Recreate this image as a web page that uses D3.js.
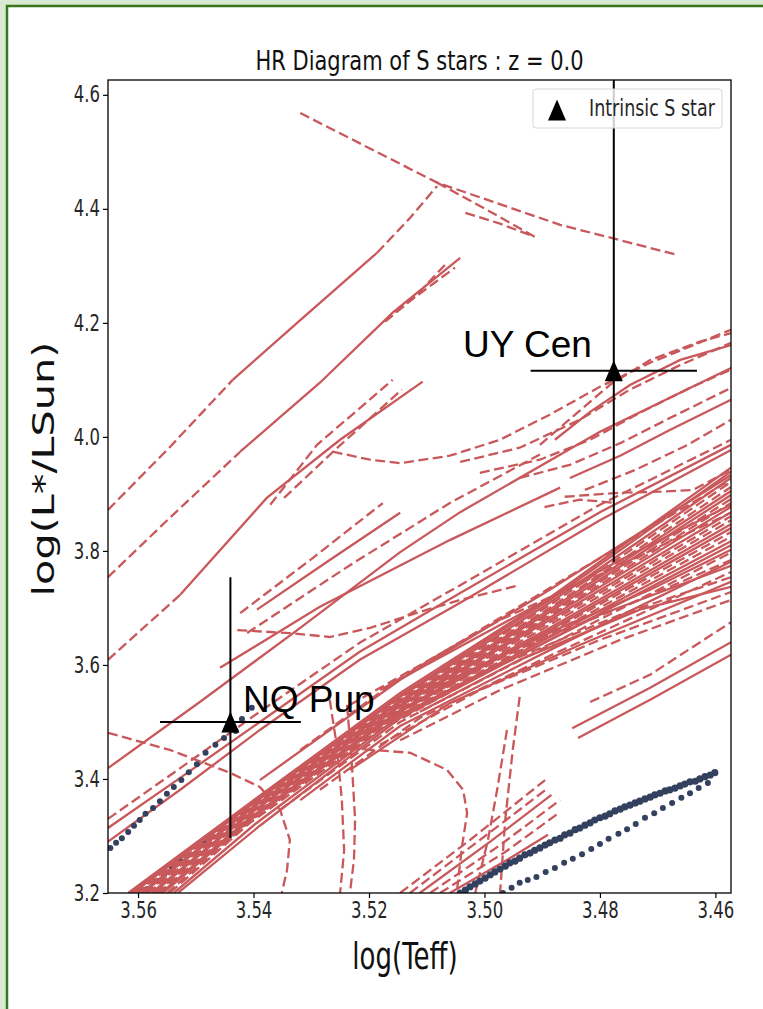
<!DOCTYPE html>
<html>
<head>
<meta charset="utf-8">
<script src="https://cdn.jsdelivr.net/npm/d3@7"></script>
<style>
  html, body { margin: 0; padding: 0; background: #d9ead3; }
  svg { display: block; }
</style>
</head>
<body>
<svg id="hr" width="763" height="1009"></svg>
<script>
// axis ticks
const xTicks = [3.56, 3.54, 3.52, 3.50, 3.48, 3.46];
const yTicks = [3.2, 3.4, 3.6, 3.8, 4.0, 4.2, 4.4, 4.6];

// evolutionary tracks, each one a list of [logTeff, logL]
const upperSolid = [
  [[3.5436, 4.100], [3.5319, 4.205], [3.5186, 4.323]],
  [[3.5423, 3.974], [3.5285, 4.095], [3.5159, 4.218], [3.5042, 4.314]],
  [[3.5527, 3.723], [3.5377, 3.893], [3.5250, 3.995], [3.5107, 4.097]]
];
const upperDashed = [
  [[3.5319, 4.568], [3.5082, 4.446], [3.4869, 4.372], [3.4665, 4.319]],
  [[3.5082, 4.446], [3.4990, 4.395], [3.4913, 4.351]],
  [[3.5033, 4.393], [3.4973, 4.374], [3.4921, 4.354]],
  [[3.5652, 3.872], [3.5545, 3.982], [3.5436, 4.100]],
  [[3.5186, 4.323], [3.5129, 4.384], [3.5082, 4.440]],
  [[3.5652, 3.754], [3.5545, 3.858], [3.5423, 3.974]],
  [[3.5172, 4.202], [3.5120, 4.246], [3.5068, 4.302]],
  [[3.5155, 4.219], [3.5103, 4.258], [3.5051, 4.297]],
  [[3.5652, 3.609], [3.5527, 3.723]],
  [[3.5371, 3.881], [3.5290, 3.986], [3.5159, 4.100]],
  [[3.5347, 3.893], [3.5259, 3.977], [3.5143, 4.083]]
];
const middleSolid = [
  [[3.5652, 3.419], [3.5493, 3.535], [3.5319, 3.665], [3.5146, 3.798], [3.5042, 3.868], [3.4800, 4.009], [3.4573, 4.121]],
  [[3.5652, 3.290], [3.5527, 3.381], [3.5389, 3.486], [3.5216, 3.609], [3.5042, 3.709], [3.4800, 3.854], [3.4573, 3.977]],
  [[3.5652, 3.314], [3.5527, 3.402], [3.5389, 3.500], [3.5216, 3.623], [3.5042, 3.726], [3.4800, 3.868], [3.4573, 3.986]],
  [[3.5394, 3.697], [3.5268, 3.784], [3.5146, 3.867]],
  [[3.5458, 3.595], [3.5285, 3.702], [3.5060, 3.819], [3.4869, 3.911]]
];
const middleDashed = [
  [[3.5652, 3.330], [3.5527, 3.419], [3.5389, 3.518], [3.5216, 3.639], [3.5042, 3.740], [3.4800, 3.881], [3.4573, 3.995]],
  [[3.5423, 3.691], [3.5302, 3.784], [3.5176, 3.884]],
  [[3.5411, 3.656], [3.5233, 3.775], [3.5060, 3.884], [3.4904, 3.969]],
  [[3.5428, 3.661], [3.5337, 3.656], [3.5268, 3.649], [3.5198, 3.665], [3.5112, 3.693], [3.5042, 3.714], [3.4939, 3.740]]
];
const rightSolid = [
  [[3.4852, 3.928], [3.4765, 3.967], [3.4679, 4.012], [3.4573, 4.065]],
  [[3.4878, 3.995], [3.4817, 4.044], [3.4748, 4.091], [3.4661, 4.135], [3.4573, 4.161]]
];
const rightDashed = [
  [[3.5263, 3.974], [3.5198, 3.960], [3.5146, 3.954], [3.5060, 3.967], [3.4973, 3.995], [3.4887, 4.039], [3.4800, 4.088], [3.4713, 4.130], [3.4573, 4.188]],
  [[3.5042, 3.956], [3.4939, 3.981], [3.4835, 4.030], [3.4748, 4.083], [3.4661, 4.126], [3.4573, 4.165]],
  [[3.5008, 3.937], [3.4904, 3.960], [3.4817, 3.995], [3.4731, 4.042], [3.4644, 4.086], [3.4573, 4.118]],
  [[3.4939, 3.928], [3.4852, 3.951], [3.4765, 3.989], [3.4679, 4.033], [3.4573, 4.086]],
  [[3.4826, 3.907], [3.4739, 3.942], [3.4652, 3.984], [3.4573, 4.030]],
  [[3.4904, 3.986], [3.4843, 4.039], [3.4783, 4.091], [3.4713, 4.135], [3.4627, 4.167], [3.4573, 4.182]],
  [[3.4896, 3.877], [3.4835, 3.890], [3.4771, 3.884]],
  [[3.4861, 3.895], [3.4765, 3.902], [3.4696, 3.904], [3.4639, 3.907], [3.4573, 3.942]]
];
const bandSolid = [
  [[3.5617, 3.2], [3.5406, 3.358], [3.5146, 3.551], [3.4887, 3.718], [3.4573, 3.946]],
  [[3.5612, 3.2], [3.5406, 3.354], [3.5146, 3.547], [3.4887, 3.714], [3.4573, 3.939]],
  [[3.5609, 3.2], [3.5406, 3.353], [3.5146, 3.544], [3.4887, 3.709], [3.4573, 3.928]],
  [[3.5595, 3.2], [3.5406, 3.347], [3.5146, 3.537], [3.4887, 3.697], [3.4573, 3.905]],
  [[3.5592, 3.2], [3.5406, 3.346], [3.5146, 3.535], [3.4887, 3.693], [3.4573, 3.898]],
  [[3.5577, 3.2], [3.5406, 3.340], [3.5146, 3.530], [3.4887, 3.683], [3.4573, 3.877]],
  [[3.5574, 3.2], [3.5406, 3.339], [3.5146, 3.528], [3.4887, 3.679], [3.4573, 3.868]],
  [[3.5560, 3.2], [3.5406, 3.332], [3.5146, 3.521], [3.4887, 3.665], [3.4573, 3.847]],
  [[3.5557, 3.2], [3.5406, 3.328], [3.5146, 3.518], [3.4887, 3.661], [3.4573, 3.840]],
  [[3.5538, 3.2], [3.5397, 3.321], [3.5146, 3.511], [3.4887, 3.649], [3.4573, 3.817]],
  [[3.5531, 3.2], [3.5389, 3.318], [3.5146, 3.507], [3.4887, 3.644], [3.4573, 3.810]],
  [[3.5319, 3.363], [3.5146, 3.493], [3.4887, 3.626], [3.4573, 3.781]],
  [[3.5233, 3.416], [3.5060, 3.533], [3.4835, 3.635], [3.4573, 3.746]],
  [[3.5389, 3.398], [3.5146, 3.574], [3.4887, 3.732], [3.4573, 3.933]],
  [[3.5181, 3.556], [3.4973, 3.670], [3.4765, 3.784], [3.4573, 3.881]],
  [[3.5060, 3.574], [3.4869, 3.665], [3.4713, 3.732], [3.4573, 3.802]],
  [[3.5216, 3.477], [3.5008, 3.582], [3.4800, 3.688], [3.4573, 3.774]],
  [[3.5112, 3.518], [3.4939, 3.609], [3.4731, 3.697], [3.4573, 3.737]]
];
const bandDashed = [
  [[3.5600, 3.2], [3.5406, 3.349], [3.5146, 3.539], [3.4887, 3.700], [3.4573, 3.912]],
  [[3.5604, 3.2], [3.5406, 3.351], [3.5146, 3.542], [3.4887, 3.705], [3.4573, 3.921]],
  [[3.5583, 3.2], [3.5406, 3.342], [3.5146, 3.532], [3.4887, 3.686], [3.4573, 3.884]],
  [[3.5587, 3.2], [3.5406, 3.344], [3.5146, 3.533], [3.4887, 3.690], [3.4573, 3.891]],
  [[3.5565, 3.2], [3.5406, 3.333], [3.5146, 3.523], [3.4887, 3.670], [3.4573, 3.854]],
  [[3.5569, 3.2], [3.5406, 3.337], [3.5146, 3.526], [3.4887, 3.675], [3.4573, 3.861]],
  [[3.5545, 3.2], [3.5406, 3.323], [3.5146, 3.512], [3.4887, 3.653], [3.4573, 3.825]],
  [[3.5550, 3.2], [3.5406, 3.326], [3.5146, 3.516], [3.4887, 3.658], [3.4573, 3.833]],
  [[3.5354, 3.346], [3.5146, 3.500], [3.4887, 3.635], [3.4573, 3.797]],
  [[3.5285, 3.381], [3.5112, 3.507], [3.4887, 3.616], [3.4573, 3.763]],
  [[3.5181, 3.460], [3.5008, 3.556], [3.4800, 3.644], [3.4573, 3.728]],
  [[3.5146, 3.468], [3.4973, 3.556], [3.4765, 3.644], [3.4573, 3.714]],
  [[3.5319, 3.451], [3.5146, 3.577], [3.4887, 3.735], [3.4573, 3.925]],
  [[3.5233, 3.530], [3.4973, 3.679], [3.4765, 3.775], [3.4573, 3.867]],
  [[3.5094, 3.556], [3.4904, 3.644], [3.4731, 3.714], [3.4573, 3.784]],
  [[3.5164, 3.495], [3.4973, 3.600], [3.4765, 3.688], [3.4573, 3.754]]
];
const lowerSolid = [
  [[3.5112, 3.2], [3.4990, 3.290], [3.4884, 3.372]],
  [[3.5060, 3.2], [3.4956, 3.261], [3.4890, 3.302]],
  [[3.4848, 3.489], [3.4713, 3.560], [3.4573, 3.640]],
  [[3.4838, 3.472], [3.4713, 3.539], [3.4573, 3.618]]
];
const lowerDashed = [
  [[3.5652, 3.481], [3.5545, 3.451], [3.5441, 3.411], [3.5389, 3.386], [3.5354, 3.346], [3.5337, 3.293], [3.5342, 3.240], [3.5351, 3.2]],
  [[3.5268, 3.539], [3.5256, 3.460], [3.5247, 3.363], [3.5243, 3.275], [3.5250, 3.2]],
  [[3.5238, 3.530], [3.5230, 3.433], [3.5224, 3.328], [3.5226, 3.258], [3.5233, 3.2]],
  [[3.5233, 3.454], [3.5129, 3.446], [3.5065, 3.416], [3.5037, 3.381], [3.5030, 3.340], [3.5039, 3.281], [3.5048, 3.2]],
  [[3.4939, 3.544], [3.4951, 3.451], [3.4964, 3.328], [3.4973, 3.2]],
  [[3.4961, 3.486], [3.4978, 3.381], [3.4994, 3.293], [3.5016, 3.2]],
  [[3.5129, 3.2], [3.5008, 3.293], [3.4890, 3.384]],
  [[3.5094, 3.2], [3.4973, 3.284], [3.4869, 3.363]],
  [[3.5077, 3.2], [3.4964, 3.272], [3.4869, 3.342]],
  [[3.5146, 3.2], [3.5025, 3.293], [3.4895, 3.398]],
  [[3.4817, 3.535], [3.4713, 3.583], [3.4573, 3.675]]
];

// model points (blue dots)
const dotsUpperLeft = [
  [3.5648, 3.279], [3.5638, 3.288], [3.5628, 3.296], [3.5617, 3.307], [3.5607, 3.318],
  [3.5597, 3.328], [3.5587, 3.339], [3.5574, 3.349], [3.5562, 3.361], [3.5550, 3.374],
  [3.5538, 3.386], [3.5525, 3.398], [3.5512, 3.412], [3.5498, 3.426], [3.5483, 3.446],
  [3.5466, 3.460], [3.5451, 3.472], [3.5431, 3.484], [3.5420, 3.505], [3.5403, 3.525]
];
const dotsLowerLeft = [
  [3.5583, 3.207], [3.5565, 3.221], [3.5555, 3.232], [3.5541, 3.244],
  [3.5527, 3.256], [3.5513, 3.268], [3.5496, 3.281], [3.5486, 3.293]
];
const dotsDense = [
  [3.5042, 3.200], [3.5033, 3.205], [3.5025, 3.211], [3.5016, 3.216], [3.5008, 3.221],
  [3.4999, 3.226], [3.4990, 3.232], [3.4982, 3.237], [3.4973, 3.242], [3.4964, 3.247],
  [3.4956, 3.253], [3.4947, 3.256], [3.4939, 3.261], [3.4930, 3.267], [3.4921, 3.270],
  [3.4913, 3.275], [3.4904, 3.279], [3.4895, 3.284], [3.4887, 3.288], [3.4878, 3.293],
  [3.4869, 3.296], [3.4861, 3.302], [3.4852, 3.305], [3.4843, 3.311], [3.4835, 3.314],
  [3.4826, 3.319], [3.4817, 3.323], [3.4809, 3.328], [3.4800, 3.332], [3.4791, 3.335],
  [3.4783, 3.339], [3.4774, 3.344], [3.4765, 3.347], [3.4757, 3.351], [3.4748, 3.354],
  [3.4739, 3.358], [3.4731, 3.361], [3.4722, 3.365], [3.4713, 3.368], [3.4705, 3.372],
  [3.4696, 3.375], [3.4687, 3.379], [3.4679, 3.381], [3.4670, 3.384], [3.4661, 3.388],
  [3.4653, 3.391], [3.4644, 3.395], [3.4635, 3.396], [3.4627, 3.400], [3.4618, 3.404],
  [3.4609, 3.407], [3.4601, 3.411]
];
const dotsSparse = [
  [3.4968, 3.200], [3.4953, 3.209], [3.4939, 3.218], [3.4925, 3.223], [3.4910, 3.228],
  [3.4894, 3.237], [3.4878, 3.244], [3.4862, 3.253], [3.4847, 3.260], [3.4831, 3.268],
  [3.4815, 3.277], [3.4800, 3.286], [3.4785, 3.295], [3.4768, 3.304], [3.4753, 3.312],
  [3.4738, 3.321], [3.4722, 3.332], [3.4706, 3.340], [3.4691, 3.349], [3.4675, 3.358],
  [3.4659, 3.367], [3.4644, 3.375], [3.4629, 3.384], [3.4613, 3.393]
];

// observed intrinsic S stars
const starNames = ["NQ Pup", "UY Cen"];
const starTeff = [3.544, 3.4776];
const starLum = [3.50, 4.116];
const starTeffErr = [0.0122, 0.0144];
const starLumErrLow = [0.204, 0.335];
const starLumErrHigh = [0.254, 0.60];

const red = "#c9585b";
const navy = "#33415f";
const margin = { top: 80, left: 108 };
const width = 623;
const height = 813;
const stretch = 1.35;

const svg = d3.select("#hr");

// slide frame
svg.append("rect")
  .attr("x", 7).attr("y", 6)
  .attr("width", 800).attr("height", 1050)
  .attr("fill", "#fff")
  .attr("stroke", "#38761d")
  .attr("stroke-width", 2.5);

const x = d3.scaleLinear().domain([3.5652, 3.4573]).range([0, width]);
const y = d3.scaleLinear().domain([3.2, 4.626]).range([height, 0]);

const g = svg.append("g")
  .attr("transform", `translate(${margin.left},${margin.top})`);

g.append("clipPath").attr("id", "plotclip")
  .append("rect").attr("width", width).attr("height", height);

const plot = g.append("g").attr("clip-path", "url(#plotclip)");

const line = d3.line().x(d => x(d[0])).y(d => y(d[1]));

function drawDots(data, r) {
  plot.append("g")
    .selectAll("circle")
    .data(data)
    .enter()
    .append("circle")
    .attr("cx", d => x(d[0]))
    .attr("cy", d => y(d[1]))
    .attr("r", r)
    .attr("fill", navy);
}

drawDots(dotsLowerLeft, 3);

const solidTracks = [].concat(upperSolid, middleSolid, rightSolid, bandSolid, lowerSolid);
const dashedTracks = [].concat(upperDashed, middleDashed, rightDashed, bandDashed, lowerDashed);

plot.append("g")
  .selectAll("path")
  .data(solidTracks)
  .enter()
  .append("path")
  .attr("d", line)
  .attr("fill", "none")
  .attr("stroke", red)
  .attr("stroke-width", 2.3);

plot.append("g")
  .selectAll("path")
  .data(dashedTracks)
  .enter()
  .append("path")
  .attr("d", line)
  .attr("fill", "none")
  .attr("stroke", red)
  .attr("stroke-width", 2.3)
  .attr("stroke-dasharray", "10,4.5");

drawDots(dotsUpperLeft, 3);
drawDots(dotsDense, 3.6);
drawDots(dotsSparse, 3);

// error bars and markers
const stars = starNames.map((name, i) => ({
  name: name, t: starTeff[i], l: starLum[i],
  te: starTeffErr[i], lo: starLumErrLow[i], hi: starLumErrHigh[i]
}));

const eb = plot.append("g").attr("stroke", "#000").attr("stroke-width", 2);
eb.selectAll(".h").data(stars).enter().append("line")
  .attr("x1", d => x(d.t + d.te)).attr("x2", d => x(d.t - d.te))
  .attr("y1", d => y(d.l)).attr("y2", d => y(d.l));
eb.selectAll(".v").data(stars).enter().append("line")
  .attr("x1", d => x(d.t)).attr("x2", d => x(d.t))
  .attr("y1", d => y(d.l - d.lo)).attr("y2", d => y(d.l + d.hi));

const tri = "M0,-10.5L9,10.5L-9,10.5Z";
plot.selectAll(".star").data(stars).enter().append("path")
  .attr("d", tri)
  .attr("transform", d => `translate(${x(d.t)},${y(d.l)})`)
  .attr("fill", "#000");

// axes
const font = "'DejaVu Sans', sans-serif";

const yAxis = g.append("g")
  .call(d3.axisLeft(y).tickValues(yTicks).tickFormat(d3.format(".1f")).tickSize(5).tickSizeOuter(0));
const xAxis = g.append("g")
  .attr("transform", `translate(0,${height})`)
  .call(d3.axisBottom(x).tickValues(xTicks).tickFormat(d3.format(".2f")).tickSize(5).tickSizeOuter(0));

[xAxis, yAxis].forEach(ax => {
  ax.select(".domain").remove();
  ax.selectAll("line").attr("stroke", "#000").attr("stroke-width", 1.2);
  ax.selectAll("text")
    .attr("fill", "#262626")
    .style("font-family", font)
    .style("font-size", "16.5px")
    .attr("transform", `scale(1,${stretch})`);
});
yAxis.selectAll("text").attr("x", -8);
xAxis.selectAll("text").attr("y", 9 / stretch);

g.append("rect")
  .attr("width", width).attr("height", height)
  .attr("fill", "none")
  .attr("stroke", "#000")
  .attr("stroke-width", 1.3);

// titles
svg.append("text")
  .attr("transform", `translate(${margin.left + width / 2},70) scale(1,1.25)`)
  .attr("text-anchor", "middle")
  .style("font-family", font)
  .style("font-size", "21px")
  .attr("fill", "#111")
  .text("HR Diagram of S stars : z = 0.0");

svg.append("text")
  .attr("transform", `translate(405,969) scale(1,1.45)`)
  .attr("text-anchor", "middle")
  .style("font-family", font)
  .style("font-size", "26px")
  .attr("fill", "#111")
  .text("log(Teff)");

svg.append("text")
  .attr("transform", `translate(54,469) rotate(-90) scale(1.38,1)`)
  .attr("text-anchor", "middle")
  .style("font-family", font)
  .style("font-size", "30px")
  .attr("fill", "#111")
  .text("log(L*/LSun)");

// star labels (added over the figure)
const labelPos = [[243, 712], [463, 357]];
svg.selectAll(".lbl").data(starNames).enter().append("text")
  .attr("x", (d, i) => labelPos[i][0])
  .attr("y", (d, i) => labelPos[i][1])
  .style("font-family", "'Liberation Sans', Arial, sans-serif")
  .style("font-size", "37px")
  .attr("fill", "#000")
  .text(d => d);

// legend
const leg = svg.append("g");
leg.append("rect")
  .attr("x", 533).attr("y", 89)
  .attr("width", 189).attr("height", 39)
  .attr("rx", 3)
  .attr("fill", "#fff").attr("fill-opacity", 0.8)
  .attr("stroke", "#d6d6d6");
leg.append("path")
  .attr("d", tri)
  .attr("transform", "translate(557,110)")
  .attr("fill", "#000");
leg.append("text")
  .attr("transform", `translate(589,116) scale(1,${stretch})`)
  .style("font-family", font)
  .style("font-size", "17.5px")
  .attr("fill", "#262626")
  .text("Intrinsic S star");
</script>
</body>
</html>
